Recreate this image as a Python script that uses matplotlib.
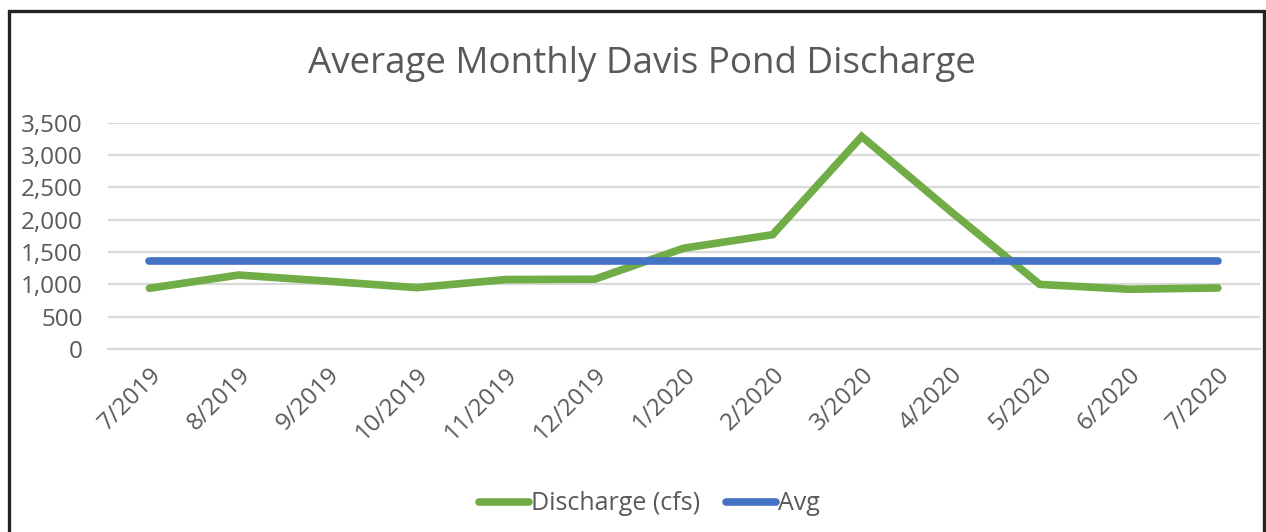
import matplotlib
matplotlib.use('Agg')
import matplotlib.pyplot as plt
import matplotlib.transforms as mtransforms
from matplotlib.patches import Rectangle
from matplotlib.ticker import FuncFormatter

plt.rcParams['font.family'] = ['Open Sans', 'DejaVu Sans']

months = ['7/2019', '8/2019', '9/2019', '10/2019', '11/2019', '12/2019',
          '1/2020', '2/2020', '3/2020', '4/2020', '5/2020', '6/2020', '7/2020']
discharge = [940, 1145, 1050, 950, 1075, 1080, 1560, 1770, 3290, 2130, 1000, 925, 945]
avg = [1365] * len(months)

text_grey = '#595959'

fig = plt.figure(figsize=(12.66, 5.32), dpi=100)
ax = fig.add_axes([0.085, 0.344, 0.91, 0.425])

x = list(range(len(months)))
ax.plot(x, discharge, color='#70AD47', lw=5.5, solid_capstyle='round',
        solid_joinstyle='miter', label='Discharge (cfs)', zorder=3)
ax.plot(x, avg, color='#4472C4', lw=5.5, solid_capstyle='round',
        label='Avg', zorder=3)

ax.set_xlim(-0.47, 12.47)
ax.set_ylim(0, 3500)
ax.set_yticks(range(0, 3501, 500))
ax.yaxis.set_major_formatter(FuncFormatter(lambda v, p: '{:,.0f}'.format(v)))
ax.set_xticks(x)
ax.set_xticklabels(months, rotation=45, ha='right', va='top',
                   rotation_mode='anchor')
# nudge the slanted month labels a little to the right of their ticks
shift = mtransforms.ScaledTranslation(6 / 100, 0, fig.dpi_scale_trans)
for lbl in ax.get_xticklabels():
    lbl.set_transform(lbl.get_transform() + shift)

ax.grid(axis='y', color='#d9d9d9', lw=1.6)
ax.set_axisbelow(True)
for s in ['top', 'right', 'left']:
    ax.spines[s].set_visible(False)
ax.spines['bottom'].set_color('#d9d9d9')
ax.spines['bottom'].set_linewidth(1.6)
ax.tick_params(axis='both', length=0, labelsize=17.5, colors=text_grey)
ax.tick_params(axis='y', pad=18)
ax.tick_params(axis='x', pad=10)

fig.text(0.507, 0.88, 'Average Monthly Davis Pond Discharge', ha='center',
         va='center', fontsize=26.5, color=text_grey)

leg = fig.legend(loc='center', bbox_to_anchor=(0.513, 0.053), ncol=2,
                 frameon=False, fontsize=18, handlelength=2.0,
                 handletextpad=0.1, columnspacing=1.0)
for t in leg.get_texts():
    t.set_color(text_grey)

# outer border of the chart area
fig.patches.append(Rectangle((9 / 1266, -0.05), 1255 / 1266, 1 - 11 / 532 + 0.05,
                             transform=fig.transFigure, fill=False,
                             edgecolor='#222222', lw=2.4))

fig.savefig('out.png', dpi=100)
